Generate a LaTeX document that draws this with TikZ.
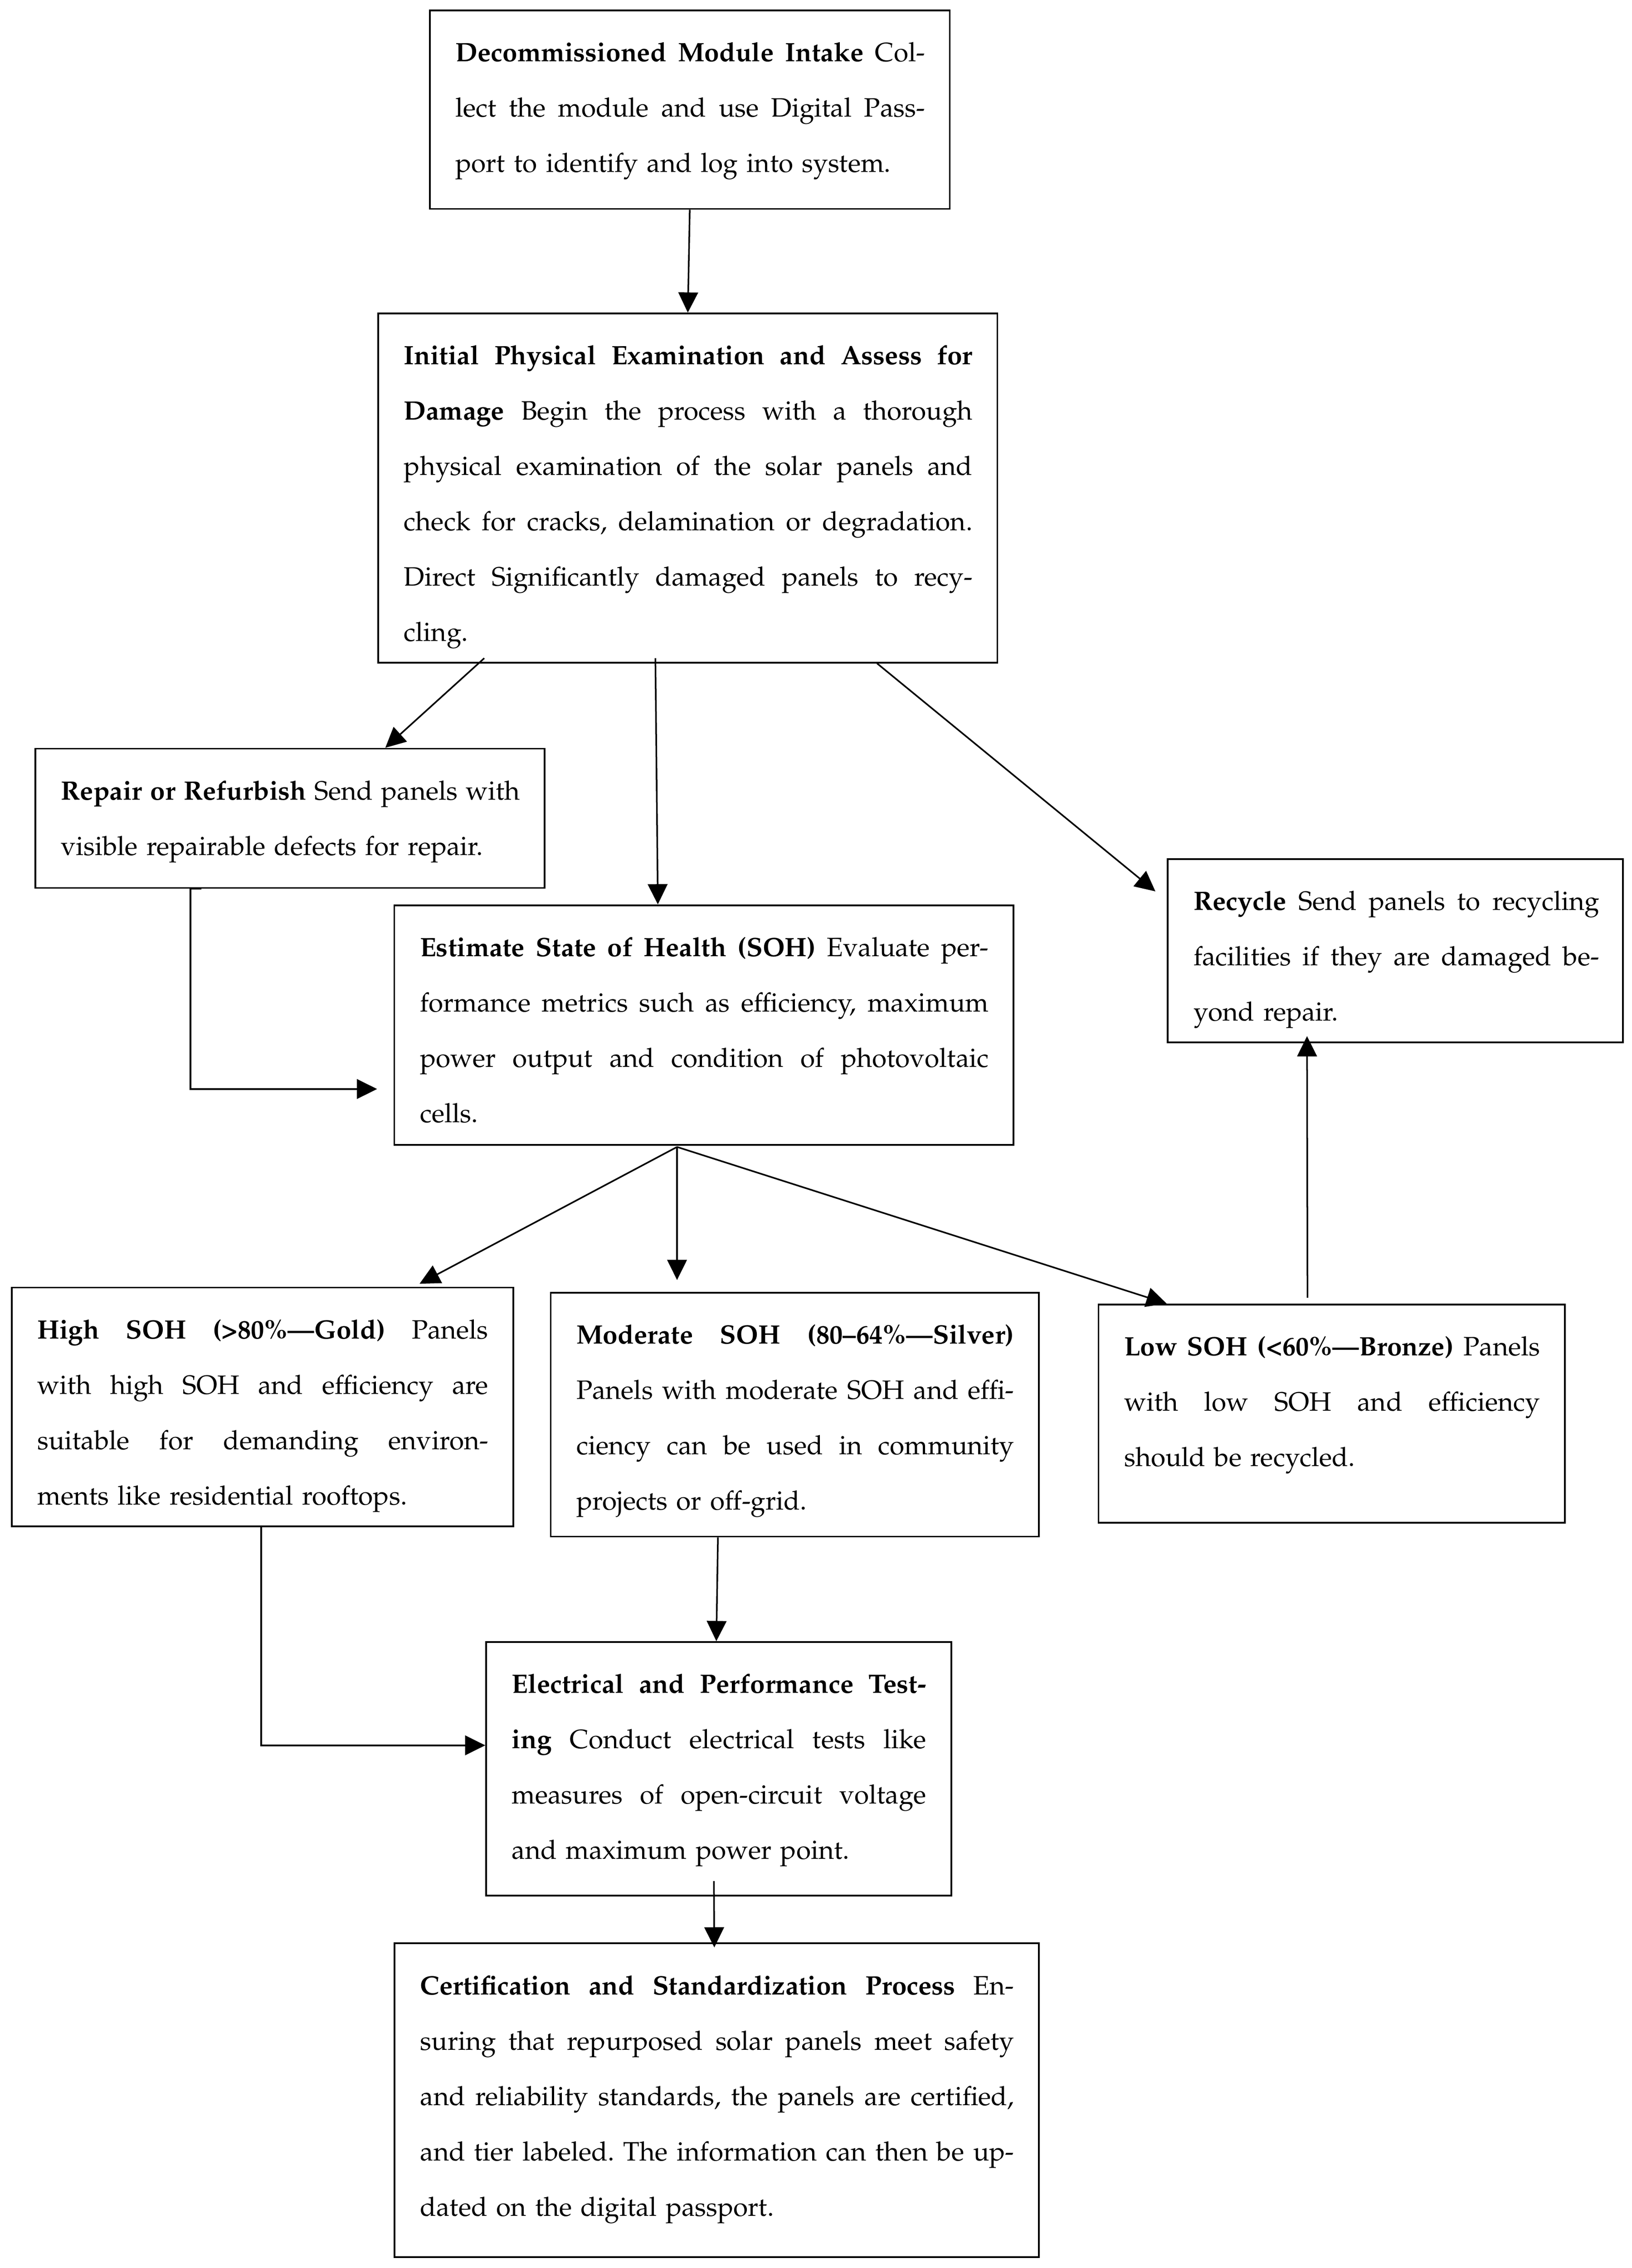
\documentclass[tikz,border=0pt]{standalone}
\IfFileExists{tgpagella.sty}{\usepackage[T1]{fontenc}\usepackage{tgpagella}}{%
  \IfFileExists{mathpazo.sty}{\usepackage[T1]{fontenc}\usepackage{mathpazo}}{%
    \usepackage{fontspec}\setmainfont{Liberation Serif}}}
\usetikzlibrary{calc,arrows.meta}
\newlength\tww
\newcommand\J[1]{\leavevmode\hbox to \tww{\spaceskip=\fontdimen2\font plus 1fil minus \fontdimen4\font\relax #1}}
\newcommand\R{\leavevmode\rule{0pt}{10pt}}
\frenchspacing
\begin{document}
\begin{tikzpicture}[x=0.5pt,y=-0.5pt,
  pbox/.style={draw, line width=0.6pt, inner sep=0pt, anchor=north west},
  txt/.style={inner sep=0pt, anchor=north west, align=left,
    font=\fontsize{9.2}{19.15}\selectfont},
  arr/.style={line width=0.55pt, -{Triangle[length=7pt,width=6.8pt]}}]
\useasboundingbox (0,0) rectangle (1130,1569.9);

% boxes
\node[pbox, minimum width=180pt,    minimum height=68.7pt]  (intake)  at (297,6.6) {};
\node[pbox, minimum width=214.35pt, minimum height=120.8pt] (init)    at (261.3,216.4) {};
\node[pbox, minimum width=176.4pt,  minimum height=48.2pt]  (repair)  at (23.8,517.6) {};
\node[pbox, minimum width=214.4pt,  minimum height=83pt]    (est)     at (272.4,626) {};
\node[pbox, minimum width=157.5pt,  minimum height=63.5pt]  (recycle) at (808,594) {};
\node[pbox, minimum width=173.6pt,  minimum height=82.6pt]  (high)    at (7.5,890.6) {};
\node[pbox, minimum width=169.05pt, minimum height=84.4pt]  (mod)     at (380.7,894.2) {};
\node[pbox, minimum width=161.45pt, minimum height=75.5pt]  (low)     at (760,902.3) {};
\node[pbox, minimum width=161pt,    minimum height=87.8pt]  (elec)    at (336,1136) {};
\node[pbox, minimum width=223.05pt, minimum height=108.6pt] (cert)    at (272.6,1344.6) {};

% texts
\node[txt, text width=162.5pt] (intakeT) at ($(intake.north west)+(18,15.6)$) {%
\setlength\tww{162.5pt}%
\R\J{\textbf{Decommissioned Module Intake} Col-}\\
\J{lect the module and use Digital Pass-}\\
\R port to identify and log into system.};

\node[txt, text width=196.85pt] (initT) at ($(init.north west)+(18,15.6)$) {%
\setlength\tww{196.85pt}%
\R\J{\textbf{Initial Physical Examination and Assess for}}\\
\J{\textbf{Damage} Begin the process with a thorough}\\
\J{physical examination of the solar panels and}\\
\J{check for cracks, delamination or degradation.}\\
\J{Direct Significantly damaged panels to recy-}\\
\R cling.};

\node[txt, text width=158.9pt] (repairT) at ($(repair.north west)+(18,15.6)$) {%
\setlength\tww{158.9pt}%
\R\J{\textbf{Repair or Refurbish} Send panels with}\\
\R visible repairable defects for repair.};

\node[txt, text width=196.9pt] (estT) at ($(est.north west)+(18,15.6)$) {%
\setlength\tww{196.9pt}%
\R\J{\textbf{Estimate State of Health (SOH)} Evaluate per-}\\
\J{formance metrics such as efficiency, maximum}\\
\J{power output and condition of photovoltaic}\\
\R cells.};

\node[txt, text width=140.5pt] (recycleT) at ($(recycle.north west)+(18,15.6)$) {%
\setlength\tww{140.5pt}%
\R\J{\textbf{Recycle} Send panels to recycling}\\
\J{facilities if they are damaged be-}\\
\R yond repair.};

\node[txt, text width=156.1pt] (highT) at ($(high.north west)+(18,15.6)$) {%
\setlength\tww{156.1pt}%
\R\J{\textbf{High SOH (>80\%---Gold)} Panels}\\
\J{with high SOH and efficiency are}\\
\J{suitable for demanding environ-}\\
\R ments like residential rooftops.};

\node[txt, text width=151.55pt] (modT) at ($(mod.north west)+(18,15.6)$) {%
\setlength\tww{151.55pt}%
\R\J{\textbf{Moderate SOH (80--64\%---Silver)}}\\
\J{Panels with moderate SOH and effi-}\\
\J{ciency can be used in community}\\
\R projects or off-grid.};

\node[txt, text width=143.95pt] (lowT) at ($(low.north west)+(18,15.6)$) {%
\setlength\tww{143.95pt}%
\R\J{\textbf{Low SOH (<60\%---Bronze)} Panels}\\
\J{with low SOH and efficiency}\\
\R should be recycled.};

\node[txt, text width=143.5pt] (elecT) at ($(elec.north west)+(18,15.6)$) {%
\setlength\tww{143.5pt}%
\R\J{\textbf{Electrical and Performance Test-}}\\
\J{\textbf{ing} Conduct electrical tests like}\\
\J{measures of open-circuit voltage}\\
\R and maximum power point.};

\node[txt, text width=205.55pt] (certT) at ($(cert.north west)+(18,15.6)$) {%
\setlength\tww{205.55pt}%
\R\J{\textbf{Certification and Standardization Process} En-}\\
\J{suring that repurposed solar panels meet safety}\\
\J{and reliability standards, the panels are certified,}\\
\J{and tier labeled. The information can then be up-}\\
\R dated on the digital passport.};

% connectors
\coordinate (estout) at ($(est.south west)+(196.4,0.7)$);
\draw[arr] (intake.south) -- (init.north);
\draw[arr] ($(init.south west)+(74,-3.6)$) -- ($(repair.north west)+(243,0)$);
\draw[arr] ($(init.south west)+(192.5,-3.6)$) -- ($(est.north west)+(183.1,0)$);
\draw[arr] ($(init.south west)+(346,0)$) -- ($(recycle.north west)+(-8,23)$);
\draw[arr] ($(repair.south west)+(115.6,0)$) -- ($(repair.south west)+(108.1,0)$)
  |- ($(est.north west)+(-11.3,127.8)$);
\draw[arr] (estout) -- ($(high.north west)+(283,-2)$);
\draw[arr] (estout) -- ($(mod.north west)+(88.1,-8.2)$);
\draw[arr] (estout) -- ($(low.north west)+(47.8,0)$);
\draw[arr] ($(low.north west)+(145.3,-4)$) -- ($(recycle.south west)+(97,-5)$);
\draw[arr] ($(mod.south west)+(116.4,0)$) -- ($(elec.north west)+(160,0)$);
\draw[arr] ($(high.south west)+(173.4,0)$) |- ($(elec.north west)+(0,72.1)$);
\draw[arr] ($(elec.south west)+(158.3,-10.7)$) -- ($(cert.north west)+(222,3.4)$);
\end{tikzpicture}
\end{document}
